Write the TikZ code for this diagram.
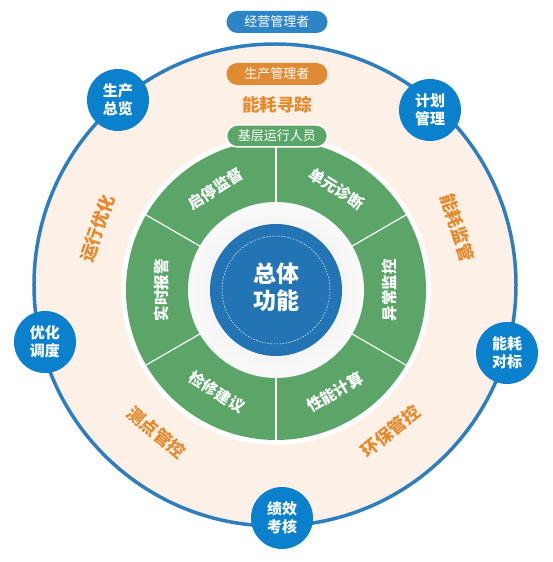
\documentclass[tikz,border=0pt]{standalone}
\usepackage{fontspec}
\setmainfont{Noto Sans CJK SC}
\definecolor{peach}{HTML}{FDF1E7}
\definecolor{ringblue}{HTML}{2E7DBF}
\definecolor{dotblue}{HTML}{0B80CC}
\definecolor{gring}{HTML}{5AA567}
\definecolor{orng}{HTML}{E5892C}
\definecolor{coreblue}{HTML}{2374B5}
\definecolor{lgray}{HTML}{EDEDED}
\definecolor{pillblue}{HTML}{2D84C6}
\definecolor{pillorange}{HTML}{E08A33}
\tikzset{
  dot/.style={circle, fill=dotblue, minimum size=62pt, inner sep=0pt, text=white, align=center,
    font=\bfseries\fontsize{15}{18}\selectfont},
  pill/.style={rectangle, rounded corners=11pt, minimum width=101pt, minimum height=22pt, inner sep=0pt,
    text=white, font=\fontsize{13}{14}\selectfont},
  seclabel/.style={text=white, font=\bfseries\fontsize{15.5}{16}\selectfont, inner sep=0pt},
  outlabel/.style={text=orng, font=\bfseries\fontsize{17.5}{18}\selectfont, inner sep=0pt},
}
\begin{document}
\begin{tikzpicture}[x=1pt,y=1pt]
\useasboundingbox (-276,-272) rectangle (277,290);
\fill[white] (-276,-272) rectangle (277,290);
% outer ring
\filldraw[fill=peach, draw=ringblue, line width=3.5pt] (-1,5) circle (241);
\fill[white] (0,0) circle (155);
\fill[gring] (0,0) circle (150);
\foreach \a in {90,30,-30,-90,-150,150}
  \draw[white, line width=1.2pt] (\a:86) -- (\a:150);
\shade[inner color=gray!22, outer color=gray!4] (0,0) circle (88);
\fill[coreblue] (0,0) circle (66);
\draw[white, line width=0.5pt, dash pattern=on 1.5pt off 1.5pt] (0,0) circle (54);
\node[text=white, align=center, font=\bfseries\fontsize{23}{27}\selectfont] (core) at (0,3) {总体\\功能};
% sector labels
\node[seclabel, rotate=32] (s1) at (121:118) {启停监督};
\node[seclabel, rotate=-32] (s2) at (59:118) {单元诊断};
\node[seclabel, rotate=90] (s3) at (0:114) {异常监控};
\node[seclabel, rotate=30] (s4) at (-60:118) {性能计算};
\node[seclabel, rotate=-32] (s5) at (-120:118) {检修建议};
\node[seclabel, rotate=90] (s6) at (180:114) {实时报警};
% outer labels
\node[outlabel] (o1) at (1,185) {能耗寻踪};
\node[outlabel, rotate=-72] (o2) at (19:192) {能耗监管};
\node[outlabel, rotate=39] (o3) at (-51:182) {环保管控};
\node[outlabel, rotate=-40] (o4) at (-130:186) {测点管控};
\node[outlabel, rotate=71] (o5) at (161:189) {运行优化};
% pills
\node[pill, fill=pillblue] (p1) at (1,268) {经营管理者};
\node[pill, fill=pillorange] (p2) at (1,216) {生产管理者};
\node[pill, fill=gring, draw=white, line width=1.5pt] (p3) at (1,154) {基层运行人员};
% small circles
\node[dot] (d1) at (-158,190) {生产\\总览};
\node[dot] (d2) at (154,180) {计划\\管理};
\node[dot] (d3) at (-231,-52) {优化\\调度};
\node[dot] (d4) at (231,-63) {能耗\\对标};
\node[dot] (d5) at (6,-228) {绩效\\考核};
\end{tikzpicture}
\end{document}
